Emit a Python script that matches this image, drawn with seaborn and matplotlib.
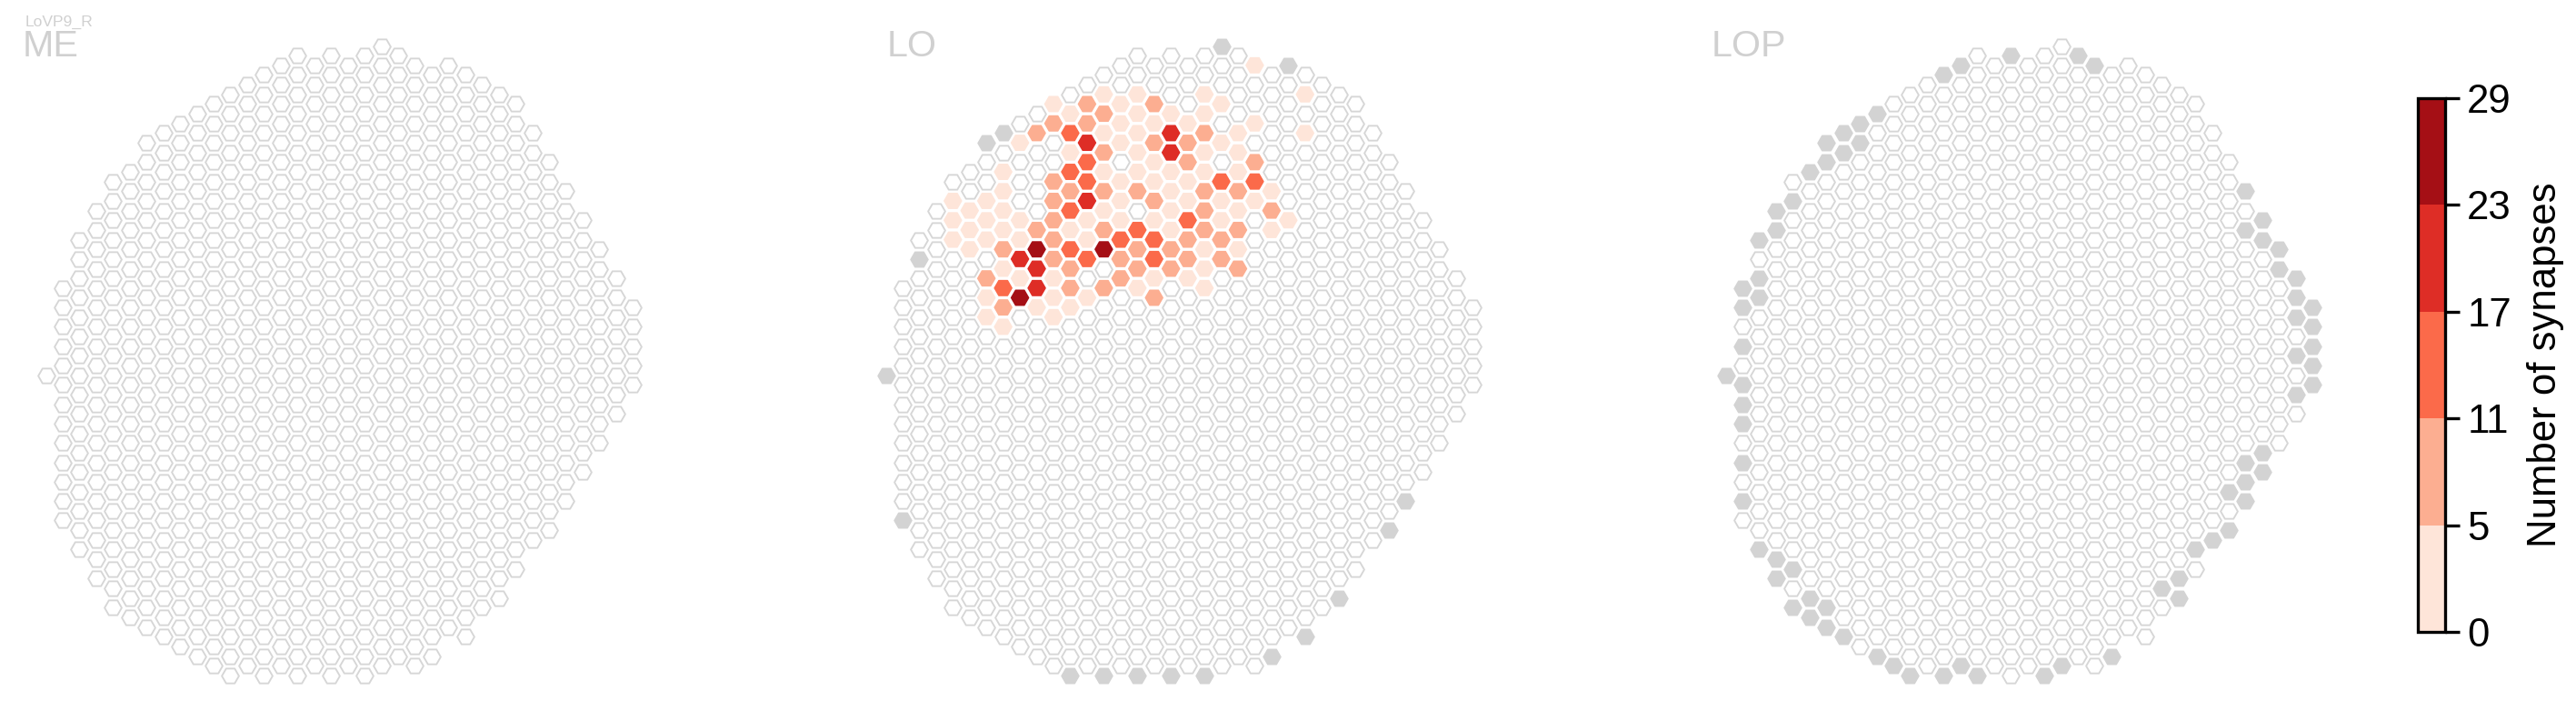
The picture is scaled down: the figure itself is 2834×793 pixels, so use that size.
import numpy as np
import pandas as pd
import matplotlib
matplotlib.use("Agg")
import matplotlib.pyplot as plt
from matplotlib.colors import ListedColormap, BoundaryNorm
from matplotlib.cm import ScalarMappable
import seaborn as sns

# --- DATA ---
cell_type = "LoVP9_R"
regions = ["ME", "LO", "LOP"]

# hex grid: first / last half-row of every column (left to right)
col_top = [0, -9, -14, -17, -20, -21, -24, -25, -26, -27, -28, -29, -30, -31, -32, -33, -32, -33,
           -32, -33, -34, -33, -32, -31, -32, -31, -30, -29, -28, -25, -22, -19, -16, -13, -10, -7]
col_bottom = [0, 15, 18, 21, 24, 25, 26, 27, 28, 29, 30, 31, 30, 31, 30, 31, 30, 31,
              30, 31, 30, 29, 30, 29, 26, 27, 24, 23, 20, 17, 16, 13, 10, 7, 4, 1]

# synapse counts in LO (column, half-row, count), grouped by colour band
lo_col = [9, 13, 8,
          17, 12, 17, 12, 8, 9, 9,
          11, 12, 11, 12, 20, 22, 11, 18, 15, 14, 16, 11, 12, 16, 7,
          12, 16, 13, 10, 12, 9, 19, 16, 18, 13, 18, 22, 10, 11, 13, 15, 19, 21, 10, 16,
          19, 23, 10, 9, 13, 19, 21, 10, 18, 20, 7, 15, 17, 10, 14, 18, 20, 11, 15, 17,
          21, 6, 14, 11, 13, 16, 7,
          22, 13, 15, 19, 25, 10, 14, 20, 11, 15, 17, 19, 14, 16, 18, 22, 13, 15, 21, 25,
          8, 14, 20, 11, 15, 19, 21, 16, 7, 13, 15, 17, 19, 21, 14, 16, 18, 7, 17, 23,
          4, 6, 14, 18, 20, 22, 5, 7, 13, 17, 21, 4, 6, 8, 12, 14, 16, 20, 24,
          5, 7, 11, 17, 23, 4, 6, 8, 12, 5, 19, 21, 7, 19, 8, 10, 16, 18, 15, 19,
          6, 10, 12, 9, 11, 6, 10, 7]
lo_row = [-13, -13, -8,
          -25, -24, -23, -18, -12, -11, -9,
          -25, -22, -21, -20, -20, -20, -17, -16, -15, -14, -14, -13, -12, -12, -9,
          -28, -28, -27, -26, -26, -25, -25, -24, -24, -23, -22, -22, -20, -19, -19, -19, -19, -19, -18, -18,
          -17, -17, -16, -15, -15, -15, -15, -14, -14, -14, -13, -13, -13, -12, -12, -12, -12, -11, -11, -11,
          -11, -10, -10, -9, -9, -8, -7,
          -32, -29, -29, -29, -29, -28, -28, -28, -27, -27, -27, -27, -26, -26, -26, -26, -25, -25, -25, -25,
          -24, -24, -24, -23, -23, -23, -23, -22, -21, -21, -21, -21, -21, -21, -20, -20, -20, -19, -19, -19,
          -18, -18, -18, -18, -18, -18, -17, -17, -17, -17, -17, -16, -16, -16, -16, -16, -16, -16, -16,
          -15, -15, -15, -15, -15, -14, -14, -14, -14, -13, -13, -13, -11, -11, -10, -10, -10, -10, -9, -9,
          -8, -8, -8, -7, -7, -6, -6, -5]
lo_syn = [29, 26, 27,
          21, 20, 19, 20, 21, 19, 20,
          14, 13, 15, 14, 12, 13, 14, 15, 13, 14, 16, 14, 15, 13, 12,
          8, 7, 9, 8, 7, 9, 8, 7, 8, 9, 8, 7, 8, 9, 8, 8, 7, 9, 8, 8,
          7, 8, 9, 8, 8, 7, 9, 8, 8, 7, 9, 8, 8, 8, 7, 9, 8, 8, 7, 9,
          8, 8, 9, 7, 8, 8, 7,
          2, 3, 1, 2, 3, 4, 2, 3, 1, 2, 3, 2, 4, 3, 2, 1, 3, 2, 2, 1,
          3, 4, 2, 3, 2, 3, 1, 4, 2, 3, 2, 3, 2, 1, 4, 3, 2, 2, 3, 1,
          2, 1, 3, 2, 3, 1, 2, 3, 4, 2, 2, 1, 2, 3, 3, 4, 3, 2, 1,
          2, 3, 4, 2, 1, 2, 3, 2, 4, 1, 2, 2, 3, 2, 3, 2, 3, 2, 2, 1,
          2, 3, 2, 3, 2, 1, 2, 1]

# columns without this neuropil (drawn grey)
lo_grey_col = [20, 24, 7, 6, 2, 0, 1, 31, 30, 27, 25, 23, 11, 13, 15, 17, 19]
lo_grey_row = [-34, -32, -25, -24, -12, 0, 15, 13, 16, 23, 27, 29, 31, 31, 31, 31, 31]
lop_grey_col = [17, 21, 22, 14, 13, 9, 8, 7, 6, 8, 7, 6, 5, 4, 3, 3, 2, 2, 1, 2, 1, 1, 0, 1, 1, 1, 1, 1,
                2, 3, 4, 3, 5, 4, 6, 5, 6, 7, 9, 10, 11, 13, 14, 15, 19, 20, 23,
                26, 27, 27, 28, 29, 30, 30, 31, 31, 31, 32, 32, 34, 34, 35, 35, 35, 35, 34, 34, 35, 34,
                33, 33, 32, 32, 31, 31]
lop_grey_row = [-33, -33, -32, -32, -31, -27, -26, -25, -24, -24, -23, -22, -21, -18, -17, -15, -14, -10,
                -9, -8, -7, -3, 0, 1, 3, 5, 9, 13,
                18, 19, 20, 21, 23, 24, 24, 25, 26, 27, 29, 30, 31, 31, 30, 31, 31, 30, 29,
                22, 21, 23, 18, 17, 16, 12, 13, 11, 9, 10, 8, 2, -2, 1, -1, -3, -5, -6, -8, -7, -10,
                -11, -13, -14, -16, -15, -19]

bin_edges = [0, 5, 11, 17, 23, 29]
bin_colors = ["#fee5d9", "#fcae91", "#fb6a4a", "#de2d26", "#a50f15"]
grey_fill = "#d3d3d3"
outline = "#d6d6d6"

# --- FIGURE ---
W, H, DPI = 2834, 793, 300
sns.set_theme(style="white")
plt.rcParams["font.family"] = ["Liberation Sans", "DejaVu Sans"]

fig = plt.figure(figsize=(W / DPI, H / DPI), dpi=DPI)

grid = pd.DataFrame([(c, h) for c in range(len(col_top))
                     for h in range(col_top[c], col_bottom[c] + 1, 2)], columns=["col", "row"])


def to_xy(df):
    df = df.copy()
    df["x"] = df["col"] * 1.5
    df["y"] = -df["row"] * np.sqrt(3) / 2
    return df


grid = to_xy(grid)
lo_vals = to_xy(pd.DataFrame({"col": lo_col, "row": lo_row, "syn": lo_syn}))
lo_vals["bin"] = np.clip(np.digitize(lo_vals["syn"], bin_edges[1:-1], right=True), 0, 4)
greys = {"LO": to_xy(pd.DataFrame({"col": lo_grey_col, "row": lo_grey_row})),
         "LOP": to_xy(pd.DataFrame({"col": lop_grey_col, "row": lop_grey_row}))}

k = 12.3          # pixels per hex unit
origin_y = 412.7  # pixel row of half-row 0
panel_step = 924
R_px = 9.4
S = (2 * R_px * 72 / DPI) ** 2
title_x = [25, 976, 1883]

for i, reg in enumerate(regions):
    x0 = panel_step * i
    ox = 50.5 + x0
    ax = fig.add_axes([x0 / W, 0, 900 / W, 1])
    ax.set_axis_off()

    keys = set()
    if reg in greys:
        keys |= set(zip(greys[reg]["col"], greys[reg]["row"]))
    if reg == "LO":
        keys |= set(zip(lo_vals["col"], lo_vals["row"]))
    base = grid[[(c, r) not in keys for c, r in zip(grid["col"], grid["row"])]]
    sns.scatterplot(data=base, x="x", y="y", marker="H", s=S, color="white",
                    edgecolor=outline, linewidth=0.45, ax=ax, legend=False)
    if reg in greys:
        sns.scatterplot(data=greys[reg], x="x", y="y", marker="H", s=S, color=grey_fill,
                        edgecolor=grey_fill, linewidth=0.4, ax=ax, legend=False)
    if reg == "LO":
        sns.scatterplot(data=lo_vals, x="x", y="y", hue="bin", marker="H", s=S,
                        palette=dict(enumerate(bin_colors)), edgecolor="face",
                        linewidth=0.4, ax=ax, legend=False)
    ax.set_xlim((x0 - ox) / k, (x0 + 900 - ox) / k)
    ax.set_ylim((origin_y - H) / k, origin_y / k)

    fig.text(title_x[i] / W, 1 - 62 / H, reg, fontsize=9.9, color="#d0d0d0",
             ha="left", va="baseline")

fig.text(28 / W, 1 - 28.5 / H, cell_type, fontsize=4.2, color="#d0d0d0", ha="left", va="baseline")

# --- COLORBAR ---
cax = fig.add_axes([2660 / W, 1 - 695 / H, 30 / W, 587 / H])
cmap = ListedColormap(bin_colors)
norm = BoundaryNorm(bin_edges, cmap.N)
cb = fig.colorbar(ScalarMappable(norm=norm, cmap=cmap), cax=cax, ticks=bin_edges)
cb.outline.set_linewidth(0.8)
cb.outline.set_edgecolor("black")
cax.tick_params(length=3.8, width=0.8, labelsize=10.5, colors="black", pad=2)
cb.set_label("Number of synapses", fontsize=10.5, color="black", labelpad=4)

fig.savefig("out.png", dpi=DPI)
